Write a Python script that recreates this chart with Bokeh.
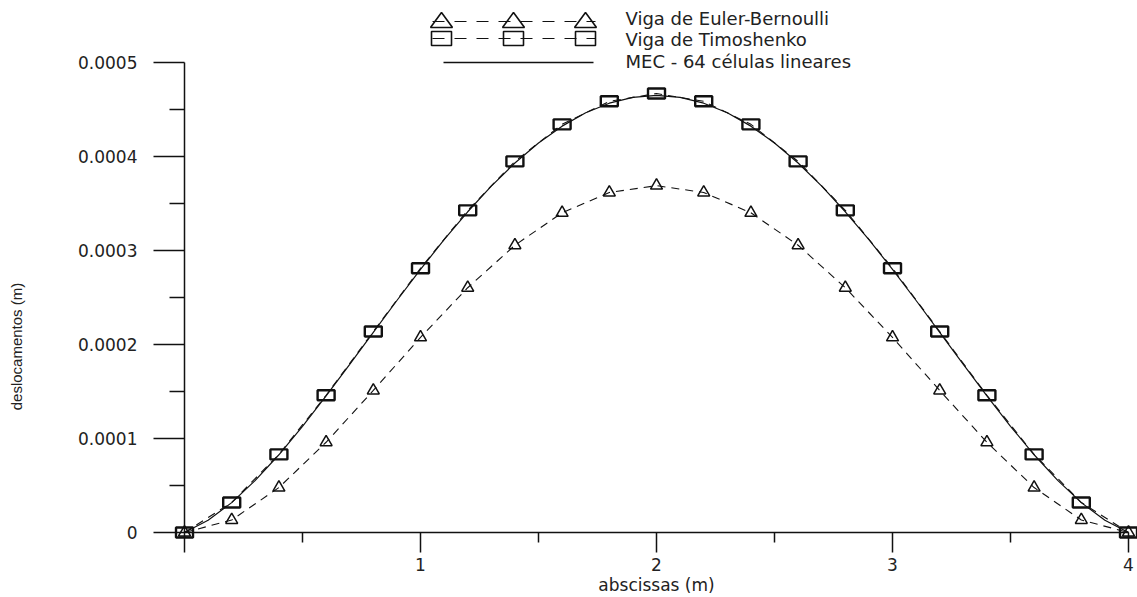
from math import pi

from bokeh.plotting import figure
from bokeh.models import Range1d, FixedTicker, Label, BoxAnnotation, PolyAnnotation, Arrow
from bokeh.embed import file_html
from bokeh.resources import INLINE

# ---------------------------------------------------------------------------
# Deflection of a 4 m beam: analytical solutions and boundary element result
# ---------------------------------------------------------------------------
x_pts = [0.0, 0.2, 0.4, 0.6, 0.8, 1.0, 1.2, 1.4, 1.6, 1.8, 2.0,
         2.2, 2.4, 2.6, 2.8, 3.0, 3.2, 3.4, 3.6, 3.8, 4.0]

euler = [0.0, 1.33e-5, 4.78e-5, 9.60e-5, 1.511e-4, 2.076e-4, 2.604e-4, 3.056e-4,
         3.401e-4, 3.617e-4, 3.69e-4, 3.617e-4, 3.401e-4, 3.056e-4, 2.604e-4,
         2.076e-4, 1.511e-4, 9.60e-5, 4.78e-5, 1.33e-5, 0.0]

timoshenko = [0.0, 3.19e-5, 8.31e-5, 1.460e-4, 2.138e-4, 2.811e-4, 3.427e-4, 3.948e-4,
              4.342e-4, 4.587e-4, 4.67e-4, 4.587e-4, 4.342e-4, 3.948e-4, 3.427e-4,
              2.811e-4, 2.138e-4, 1.460e-4, 8.31e-5, 3.19e-5, 0.0]

x_mec = [0.0, 0.1, 0.2, 0.3, 0.4, 0.5, 0.6, 0.7, 0.8, 0.9, 1.0,
         1.1, 1.2, 1.3, 1.4, 1.5, 1.6, 1.7, 1.8, 1.9, 2.0,
         2.1, 2.2, 2.3, 2.4, 2.5, 2.6, 2.7, 2.8, 2.9, 3.0,
         3.1, 3.2, 3.3, 3.4, 3.5, 3.6, 3.7, 3.8, 3.9, 4.0]

mec = [0.0, 1.30e-5, 3.18e-5, 5.54e-5, 8.27e-5, 1.130e-4, 1.453e-4, 1.789e-4,
       2.129e-4, 2.468e-4, 2.799e-4, 3.115e-4, 3.412e-4, 3.685e-4, 3.931e-4,
       4.144e-4, 4.323e-4, 4.465e-4, 4.567e-4, 4.629e-4, 4.650e-4, 4.629e-4,
       4.567e-4, 4.465e-4, 4.323e-4, 4.144e-4, 3.931e-4, 3.685e-4, 3.412e-4,
       3.115e-4, 2.799e-4, 2.468e-4, 2.129e-4, 1.789e-4, 1.453e-4, 1.130e-4,
       8.27e-5, 5.54e-5, 3.18e-5, 1.30e-5, 0.0]

x_ticks = [0, 1, 2, 3, 4]
x_tick_labels = ["", "1", "2", "3", "4"]
x_minor = [0.5, 1.5, 2.5, 3.5]

y_ticks = [0.0, 0.0001, 0.0002, 0.0003, 0.0004, 0.0005]
y_tick_labels = ["0", "0.0001", "0.0002", "0.0003", "0.0004", "0.0005"]
y_minor = [0.00005, 0.00015, 0.00025, 0.00035, 0.00045]

legend_labels = ["Viga de Euler-Bernoulli", "Viga de Timoshenko", "MEC - 64 células lineares"]

# ---------------------------------------------------------------------------
W, H = 1137, 597
FONT = "DejaVu Sans"
INK = "#111111"

p = figure(width=W, height=H,
           x_range=Range1d(-0.7797, 4.0381),
           y_range=Range1d(-6.915e-5, 5.6596e-4),
           output_backend="svg", toolbar_location=None,
           min_border=0, outline_line_color=None)
p.grid.visible = False
p.background_fill_color = "white"

# axes crossing at the origin
for ax in (p.xaxis[0], p.yaxis[0]):
    ax.fixed_location = 0
    ax.axis_line_color = INK
    ax.axis_line_width = 1.5
    ax.major_tick_line_color = INK
    ax.minor_tick_line_color = INK
    ax.major_tick_line_width = 1.5
    ax.minor_tick_line_width = 1.5
    ax.major_tick_in = 0
    ax.minor_tick_in = 0
    ax.major_label_text_font = FONT
    ax.major_label_text_font_size = "17px"
    ax.major_label_text_color = "#222222"

xa = p.xaxis[0]
xa.bounds = (0, 4)
xa.ticker = FixedTicker(ticks=x_ticks, minor_ticks=x_minor)
xa.major_label_overrides = dict(zip(x_ticks, x_tick_labels))
xa.major_tick_out = 20
xa.minor_tick_out = 10
xa.major_label_standoff = 6
xa.axis_label = "abscissas (m)"
xa.axis_label_standoff = 0
xa.axis_label_text_font = FONT
xa.axis_label_text_font_size = "17px"
xa.axis_label_text_font_style = "normal"
xa.axis_label_text_color = "#222222"

ya = p.yaxis[0]
ya.bounds = (0, 0.0005)
ya.ticker = FixedTicker(ticks=y_ticks, minor_ticks=y_minor)
ya.major_label_overrides = dict(zip(y_ticks, y_tick_labels))
ya.major_tick_out = 31
ya.minor_tick_out = 15
ya.major_label_standoff = 16
ya.major_label_orientation = "horizontal"

p.add_layout(Label(x=16, y=H - 346, x_units="screen", y_units="screen",
                   text="deslocamentos (m)", angle=pi / 2,
                   text_align="center", text_baseline="middle",
                   text_font="Liberation Sans", text_font_size="15px",
                   text_color="#222222"))

# curves
p.line(x_mec, mec, line_color=INK, line_width=1.2)
p.line(x_pts, timoshenko, line_color=INK, line_width=1.1, line_dash="8 6")
p.line(x_pts, euler, line_color=INK, line_width=1.1, line_dash="8 6")

p.scatter(x_pts, euler, marker="triangle", size=12, fill_alpha=0,
          line_color=INK, line_width=1.5)
p.rect(x_pts, timoshenko, width=17, height=10, width_units="screen",
       height_units="screen", fill_alpha=0, line_color=INK, line_width=2.4)

# legend drawn with screen-space annotations (three samples per row)
LEG_X0, LEG_X1 = 432, 595
SAMPLE_CX = [441, 513, 585]
TEXT_X = 625


def sy(y_top):
    return H - y_top


def sample_line(y_top, dash):
    p.add_layout(Arrow(end=None, start=None,
                       x_start=LEG_X0, y_start=sy(y_top), x_end=LEG_X1, y_end=sy(y_top),
                       start_units="screen", end_units="screen",
                       line_color=INK, line_width=1.2, line_dash=dash))


def legend_text(y_top, text):
    p.add_layout(Label(x=TEXT_X, y=sy(y_top), x_units="screen", y_units="screen",
                       text=text, text_baseline="middle", text_align="left",
                       text_font=FONT, text_font_size="18px", text_color="#222222"))


# row 1: triangles
sample_line(21, "12 10")
for cx in SAMPLE_CX:
    p.add_layout(PolyAnnotation(xs=[cx - 11, cx, cx + 11], ys=[sy(27), sy(12), sy(27)],
                                xs_units="screen", ys_units="screen",
                                fill_alpha=0, line_color=INK, line_alpha=1.0,
                                line_width=1.6))
legend_text(18, legend_labels[0])

# row 2: squares
sample_line(38, "12 10")
for cx in SAMPLE_CX:
    p.add_layout(BoxAnnotation(left=cx - 10, right=cx + 10, top=sy(31), bottom=sy(45),
                               left_units="screen", right_units="screen",
                               top_units="screen", bottom_units="screen",
                               fill_alpha=0, line_color=INK, line_alpha=1.0,
                               line_width=1.6))
legend_text(39, legend_labels[1])

# row 3: solid line
p.add_layout(Arrow(end=None, start=None,
                   x_start=443, y_start=sy(62), x_end=593, y_end=sy(62),
                   start_units="screen", end_units="screen",
                   line_color=INK, line_width=1.3))
legend_text(61, legend_labels[2])

open("out.html", "w").write(file_html(p, INLINE))
